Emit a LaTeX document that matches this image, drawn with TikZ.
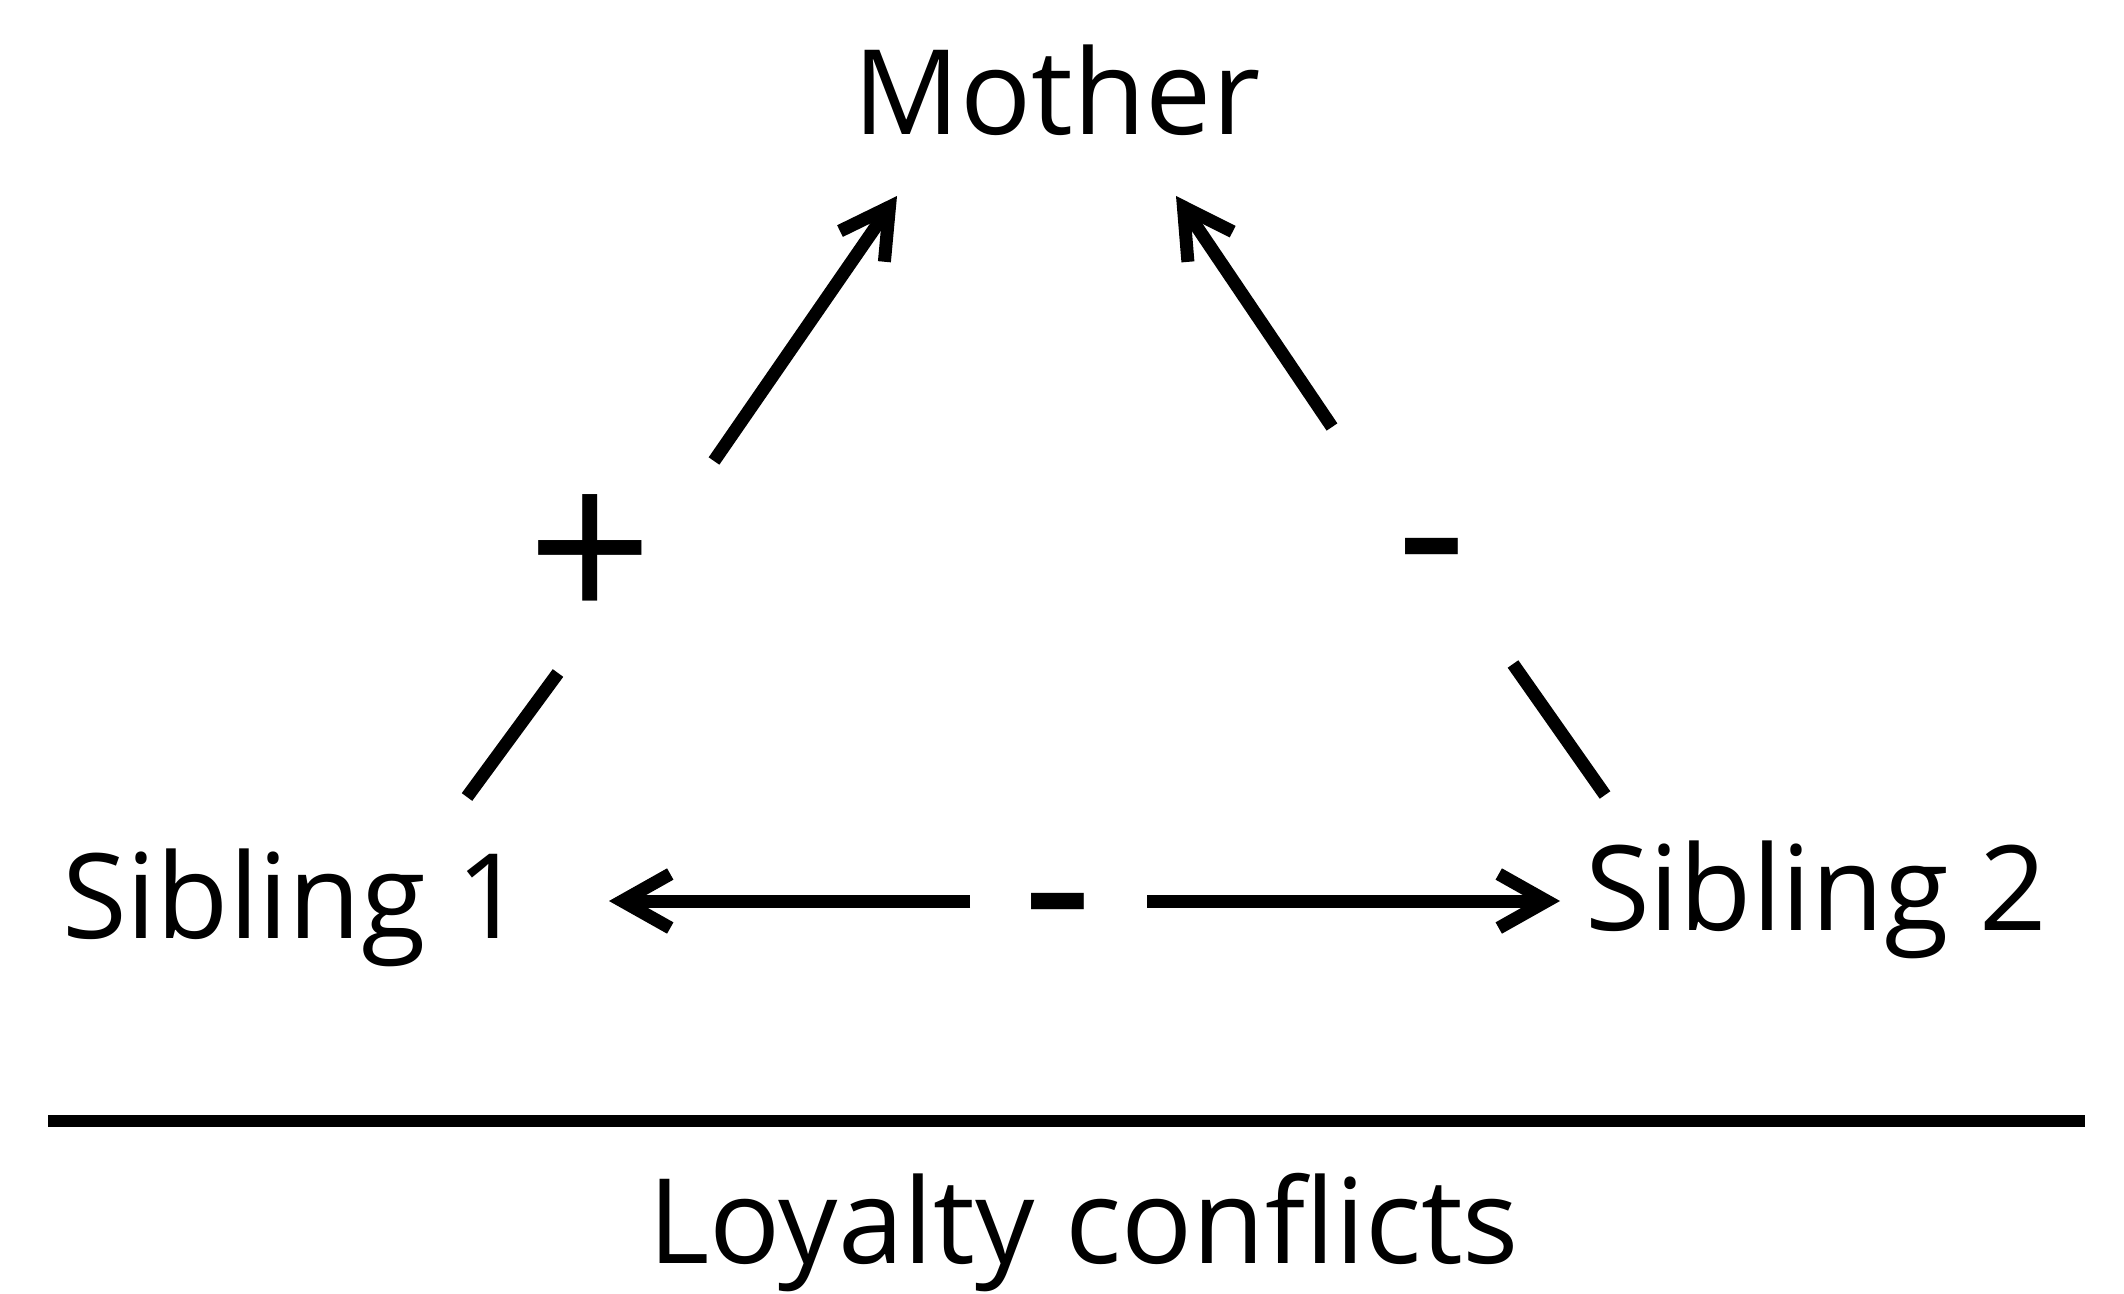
\documentclass[tikz,border=0pt]{standalone}
\usepackage{fontspec}
\setmainfont{Open Sans}
\usetikzlibrary{arrows.meta}
\begin{document}
\begin{tikzpicture}[x=0.5pt,y=-0.5pt,
  lbl/.style={font=\fontsize{59}{70}\selectfont, inner sep=0pt, anchor=base},
  sign/.style={font=\fontsize{110}{120}\selectfont, inner sep=0pt, anchor=base},
  link/.style={line width=6.5pt},
  arr/.style={link, -{Straight Barb[length=24pt,width=27pt]}}]
\useasboundingbox (0,0) rectangle (2124,1294);
% labels
\node[lbl] (mother) at (1057,135) {Mother};
\node[lbl] (sib1) at (293,938) {Sibling 1};
\node[lbl] (sib2) at (1816,930) {Sibling 2};
\node[lbl] (title) at (1084,1263) {Loyalty conflicts};
\node[sign] (plus) at (590,625) {+};
\node[sign] (minusR) at (1432,605) {-};
\node[sign] (minusM) at (1058,960) {-};
% connector end points
\coordinate (l1) at (467,797);
\coordinate (l2) at (558,673);
\coordinate (l3) at (714,461);
\coordinate (lt) at (897,196);
\coordinate (r1) at (1605,795);
\coordinate (r2) at (1513,664);
\coordinate (r3) at (1332,427);
\coordinate (rt) at (1176,196);
\coordinate (hl) at (970,901);
\coordinate (hlt) at (609,901);
\coordinate (hr) at (1147,901);
\coordinate (hrt) at (1560,901);
\coordinate (ruleL) at (48,1121);
\coordinate (ruleR) at (2085,1121);
% connectors
\draw[link] (l1) -- (l2);
\draw[arr] (l3) -- (lt);
\draw[link] (r1) -- (r2);
\draw[arr] (r3) -- (rt);
\draw[arr] (hl) -- (hlt);
\draw[arr] (hr) -- (hrt);
\draw[line width=6pt] (ruleL) -- (ruleR);
\end{tikzpicture}
\end{document}
